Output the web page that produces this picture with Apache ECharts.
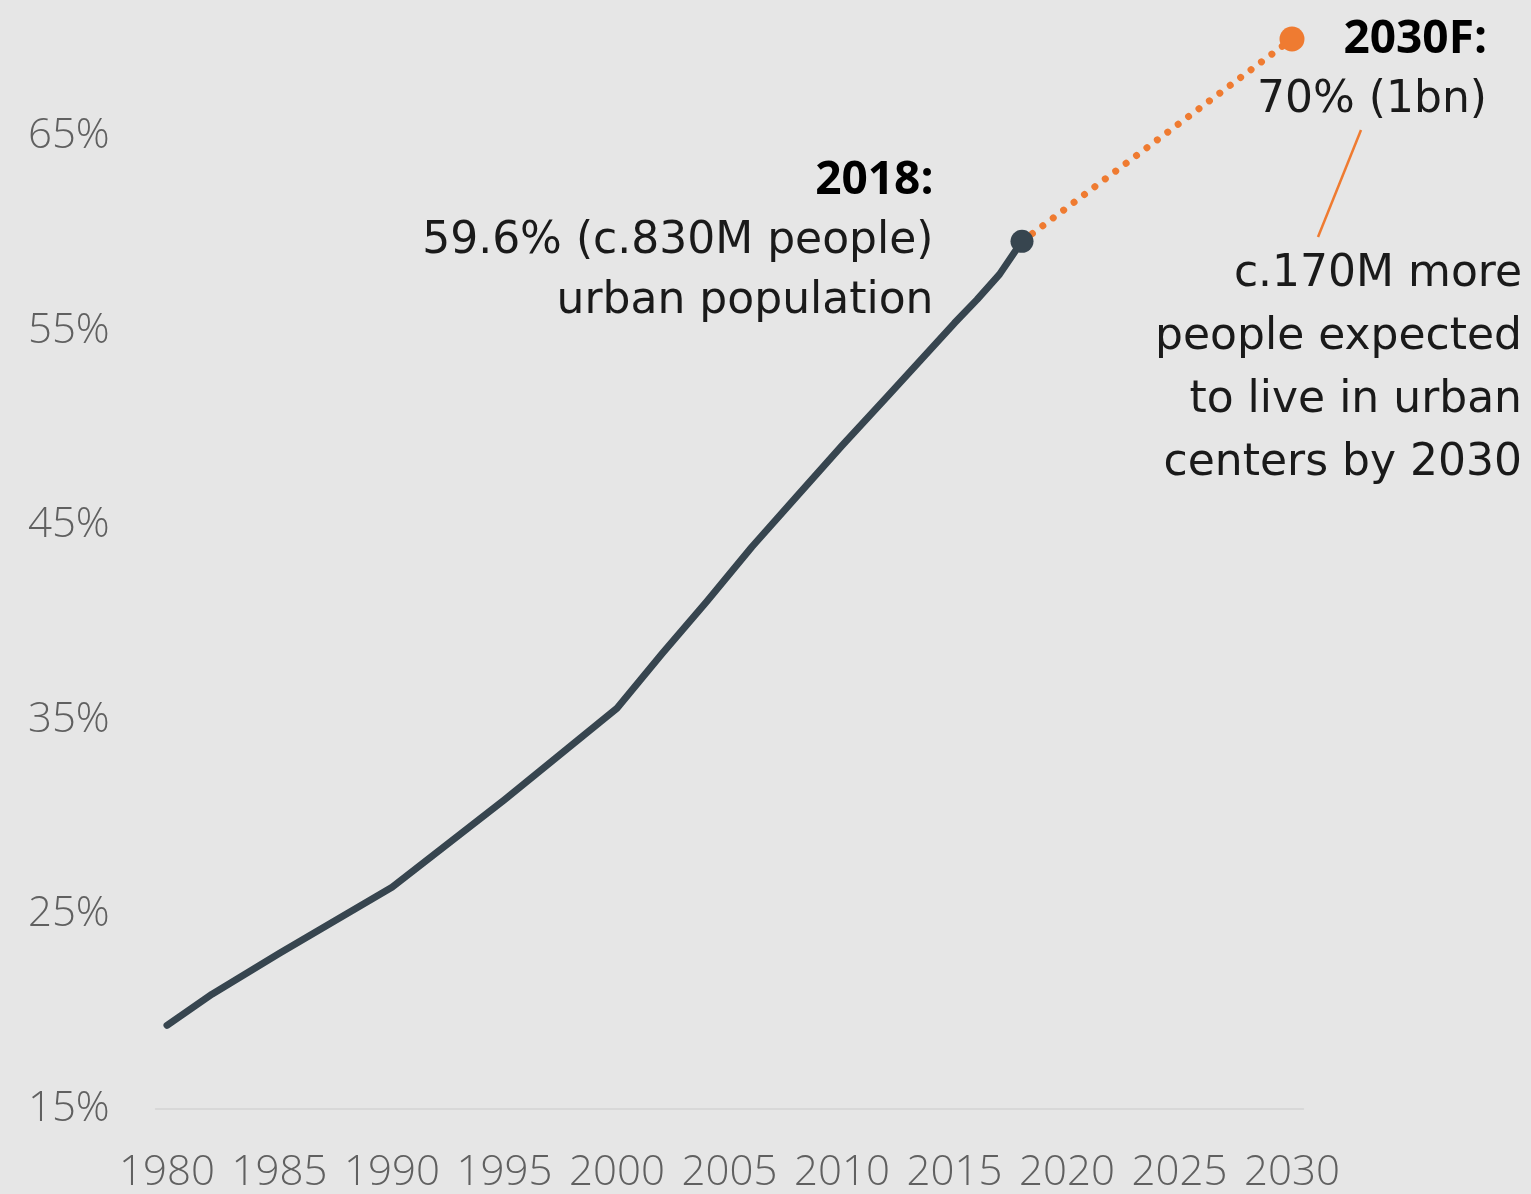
<!DOCTYPE html>
<html>
<head>
<meta charset="utf-8">
<script src="https://cdn.jsdelivr.net/npm/echarts@6/dist/echarts.min.js"></script>
<style>
  html, body { margin: 0; padding: 0; background: #e6e6e6; }
  #chart { width: 1531px; height: 1194px; }
</style>
</head>
<body>
<div id="chart"></div>
<script>
// x categories: every year from 1980 to 2030
var years = []
for (var y = 1980; y <= 2030; y++) years.push(String(y))

// urban population share (%)
var histYears = ['1980', '1982', '1985', '1990', '1995', '2000', '2002', '2004', '2006', '2008', '2010', '2012', '2015', '2016', '2017', '2018']
var histValues = [19.3, 20.9, 23.0, 26.4, 30.9, 35.6, 38.4, 41.1, 43.9, 46.5, 49.1, 51.6, 55.4, 56.6, 57.9, 59.6]

var forecastYears = ['2018', '2030']
var forecastValues = [59.6, 70]

var yTicks = [15, 25, 35, 45, 55, 65]

var DARK = '#37454f'
var ORANGE = '#ef7b31'
var LABEL_FONT = "'Open Sans', sans-serif"
var NOTE_FONT = "'DejaVu Sans', sans-serif"

var chart = echarts.init(document.getElementById('chart'))

var histData = histYears.map(function (yr, i) {
  var last = i === histYears.length - 1
  return {
    value: [yr, histValues[i]],
    symbol: last ? 'circle' : 'none',
    symbolSize: last ? 23 : 0,
    label: {
      show: last,
      position: 'left',
      distance: 77,
      align: 'right',
      formatter: '{b|2018:}\n{n|59.6% (c.830M people)}\n{n|urban population}',
      rich: {
        b: { fontFamily: LABEL_FONT, fontWeight: 700, fontSize: 46, color: '#000', lineHeight: 60, align: 'right' },
        n: { fontFamily: NOTE_FONT, fontWeight: 'normal', fontSize: 44, color: '#1a1a1a', lineHeight: 60, align: 'right' }
      }
    }
  }
})

var forecastData = forecastYears.map(function (yr, i) {
  var last = i === forecastYears.length - 1
  return {
    value: [yr, forecastValues[i]],
    symbol: last ? 'circle' : 'none',
    symbolSize: last ? 25 : 0,
    label: {
      show: last,
      position: [207.5, -17],
      align: 'right',
      verticalAlign: 'top',
      formatter: '{b|2030F:}\n{n|70% (1bn)}',
      rich: {
        b: { fontFamily: LABEL_FONT, fontWeight: 700, fontSize: 46, color: '#000', lineHeight: 61, align: 'right' },
        n: { fontFamily: NOTE_FONT, fontWeight: 'normal', fontSize: 44, color: '#1a1a1a', lineHeight: 61, align: 'right' }
      }
    }
  }
})

chart.setOption({
  backgroundColor: '#e6e6e6',
  animation: false,
  grid: { left: 155.75, right: 227.75, top: 39, bottom: 85 },
  xAxis: {
    type: 'category',
    data: years,
    boundaryGap: true,
    axisTick: { show: false },
    axisLine: { show: true, lineStyle: { color: '#d8d8d8', width: 2 } },
    axisLabel: {
      interval: 4,
      margin: 43,
      fontFamily: LABEL_FONT,
      fontWeight: 300,
      fontSize: 42,
      color: '#606060'
    },
    splitLine: { show: false }
  },
  yAxis: {
    type: 'value',
    min: 15,
    max: 70,
    interval: 5,
    axisLine: { show: false },
    axisTick: { show: false },
    splitLine: { show: false },
    axisLabel: {
      margin: 46,
      showMaxLabel: false,
      fontFamily: LABEL_FONT,
      fontWeight: 300,
      fontSize: 42,
      color: '#606060',
      formatter: function (v) {
        return yTicks.indexOf(v) >= 0 ? v + '%' : ''
      }
    }
  },
  series: [
    {
      type: 'line',
      z: 2,
      showAllSymbol: true,
      data: forecastData,
      itemStyle: { color: ORANGE },
      lineStyle: { color: ORANGE, width: 7, type: [0.01, 13], cap: 'round' }
    },
    {
      type: 'line',
      z: 3,
      showAllSymbol: true,
      data: histData,
      itemStyle: { color: DARK },
      lineStyle: { color: DARK, width: 7, cap: 'round', join: 'round' }
    }
  ],
  graphic: [
    {
      type: 'line',
      shape: { x1: 1361, y1: 130, x2: 1318, y2: 237 },
      style: { stroke: ORANGE, lineWidth: 2.5 }
    },
    {
      type: 'text',
      style: {
        x: 1522,
        y: 243,
        align: 'right',
        verticalAlign: 'top',
        text: 'c.170M more\npeople expected\nto live in urban\ncenters by 2030',
        fontFamily: NOTE_FONT,
        fontSize: 44,
        lineHeight: 63,
        fill: '#1a1a1a'
      }
    }
  ]
})
</script>
</body>
</html>
